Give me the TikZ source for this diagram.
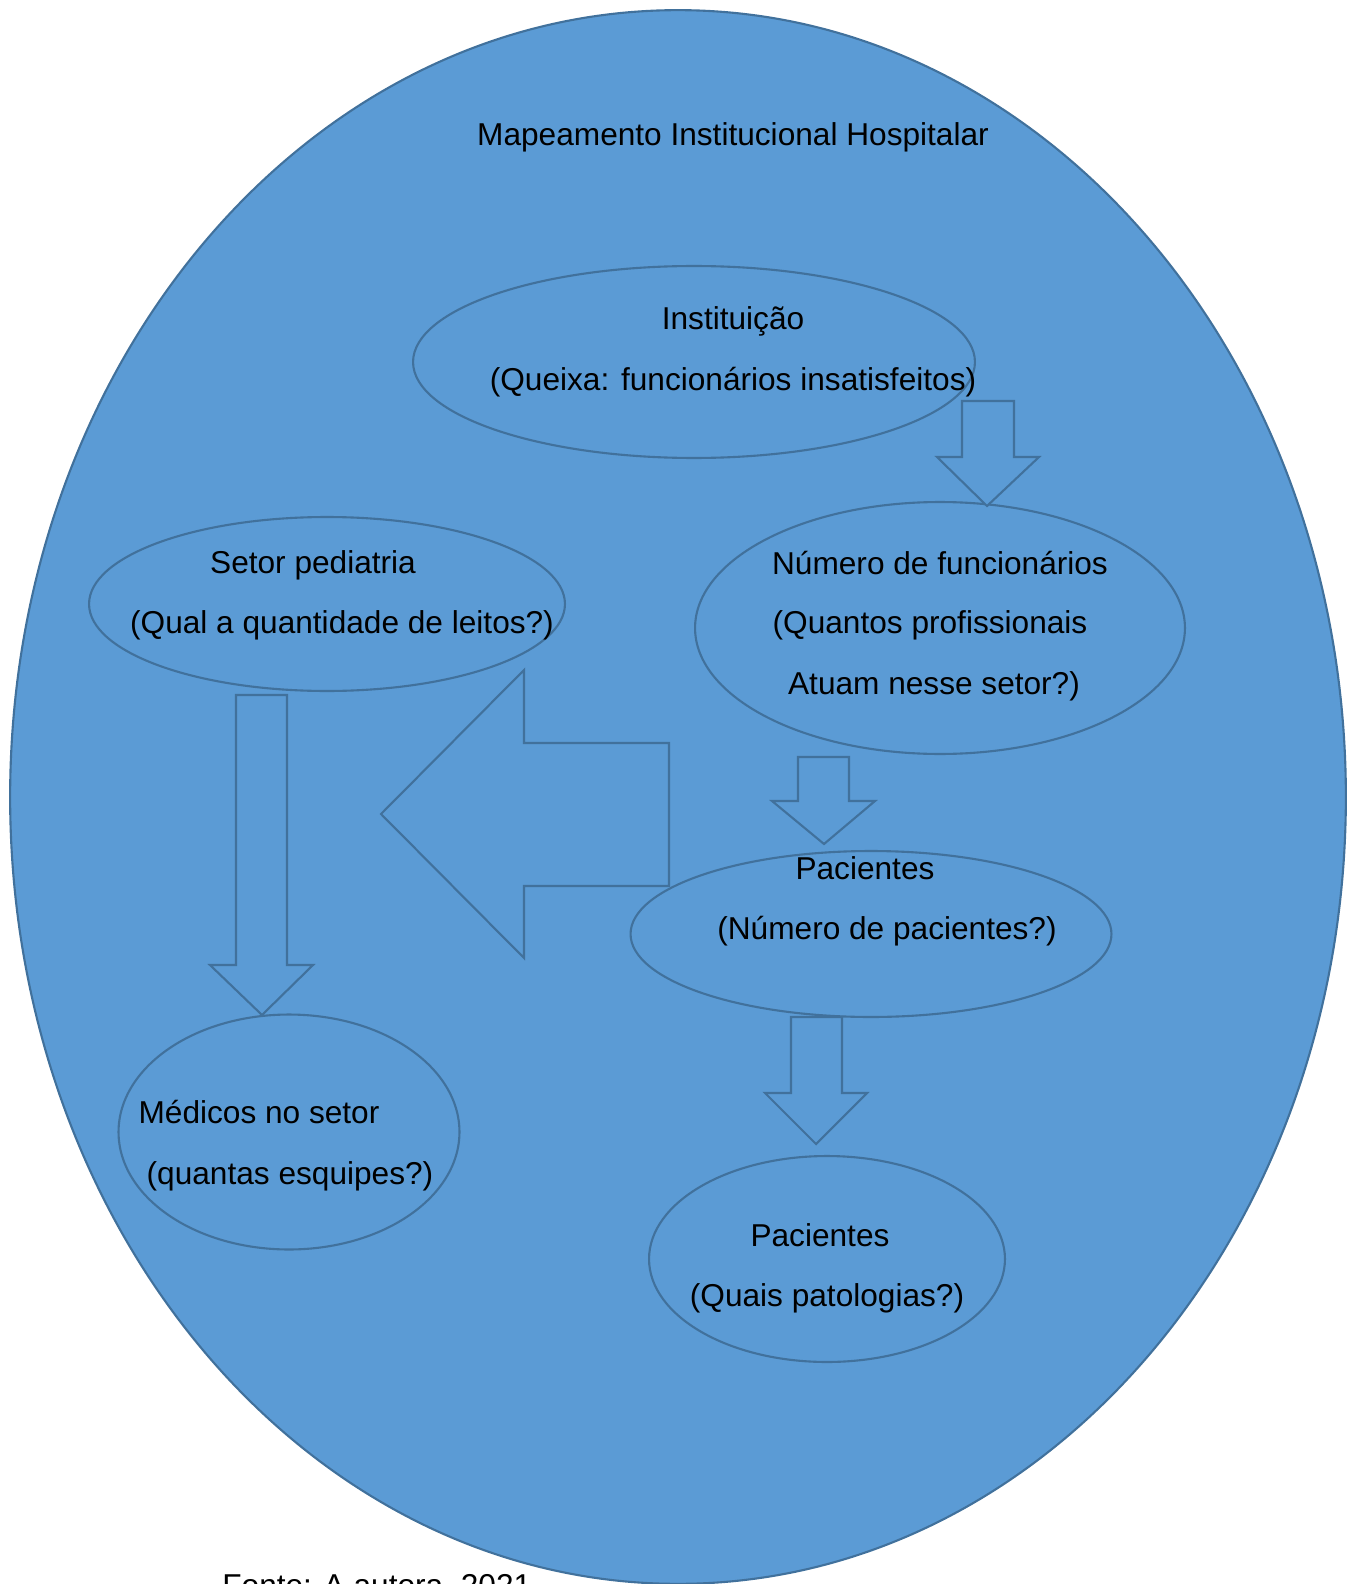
\documentclass[tikz,border=0pt]{standalone}
\usepackage{fontspec}
\setmainfont{Liberation Sans}
\usepackage{tikz}
\usetikzlibrary{shapes.geometric}
\definecolor{mapblue}{HTML}{5B9BD5}
\definecolor{mapline}{HTML}{41719C}
\tikzset{
  oval/.style={ellipse, draw=mapline, fill=mapblue, line width=1.2pt,
               inner sep=0pt, outer sep=0pt},
  txt/.style={inner sep=0pt, font=\fontsize{18}{22}\selectfont},
  blockarr/.style={draw=mapline, fill=mapblue, line width=1.2pt, line join=miter},
}

\begin{document}
\begin{tikzpicture}[x=0.02cm, y=-0.02cm]
        \useasboundingbox (0,0) rectangle (1349,1584);
        \clip (0,0) rectangle (1349,1584);
        % outer frame
        \node[oval, minimum width=26.72cm, minimum height=31.48cm] (mapa) at (678,797) {};
        \node[txt] (titulo) at (733,137) {Mapeamento Institucional Hospitalar};

        % ellipses
        \node[oval, minimum width=11.24cm, minimum height=3.84cm] (inst) at (694,362) {};
        \node[oval, minimum width=9.8cm, minimum height=5.04cm] (func) at (940,628) {};
        \node[oval, minimum width=9.52cm, minimum height=3.48cm] (setor) at (327,604) {};
        \node[oval, minimum width=9.62cm, minimum height=3.32cm] (pacA) at (871,934) {};
        \node[oval, minimum width=7.12cm, minimum height=4.12cm] (pacB) at (827,1259) {};
        \node[oval, minimum width=6.82cm, minimum height=4.7cm] (med) at (289,1132) {};

        % block arrows
        \draw[blockarr] (962,401) -- (1014,401) -- (1014,457) -- (1039,457)
              -- (987,506) -- (937,457) -- (962,457) -- cycle;
        \draw[blockarr] (798,757) -- (849,757) -- (849,801) -- (875,801)
              -- (824,844) -- (772,801) -- (798,801) -- cycle;
        \draw[blockarr] (791,1017) -- (842,1017) -- (842,1093) -- (867,1093)
              -- (816,1144) -- (765,1093) -- (791,1093) -- cycle;
        \draw[blockarr] (236,695) -- (287,695) -- (287,965) -- (313,965)
              -- (262,1015) -- (210,965) -- (236,965) -- cycle;
        \draw[blockarr] (669,743) -- (524,743) -- (524,670) -- (381,814)
              -- (524,958) -- (524,886) -- (669,886) -- cycle;

        % texts
        \node[txt] (instA) at (733,321) {Instituição};
        \node[txt] (instB) at (733,382) {(Queixa: funcionários insatisfeitos)};
        \node[txt] (funcA) at (940,563) {Número de funcionários};
        \node[txt] (funcB) at (930,625) {(Quantos profissionais};
        \node[txt] (funcC) at (934,686) {Atuam nesse setor?)};
        \node[txt] (setorA) at (313,565) {Setor pediatria};
        \node[txt] (setorB) at (342,625) {(Qual a quantidade de leitos?)};
        \node[txt] (pacAa) at (865,868) {Pacientes};
        \node[txt] (pacAb) at (887,931) {(Número de pacientes?)};
        \node[txt] (pacBa) at (820,1235) {Pacientes};
        \node[txt] (pacBb) at (827,1298) {(Quais patologias?)};
        \node[txt] (medA) at (259,1112) {Médicos no setor};
        \node[txt] (medB) at (290,1176) {(quantas esquipes?)};
        \node[txt, anchor=base west] (fonte) at (222,1596) {Fonte: A autora, 2021};
\end{tikzpicture}
\end{document}
